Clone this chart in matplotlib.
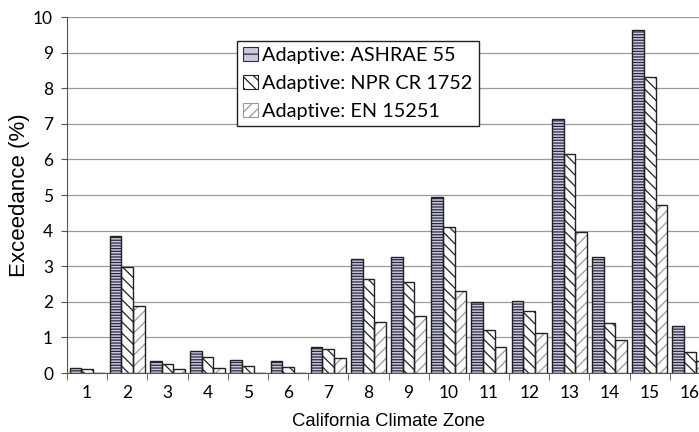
import matplotlib
matplotlib.use("Agg")
import matplotlib.pyplot as plt
import numpy as np

zones = [str(i) for i in range(1, 17)]
ashrae = [0.14, 3.84, 0.34, 0.63, 0.37, 0.34, 0.72, 3.20, 3.27, 4.95, 1.99, 2.02, 7.13, 3.25, 9.63, 1.32]
npr = [0.10, 2.97, 0.24, 0.46, 0.20, 0.16, 0.68, 2.65, 2.56, 4.09, 1.21, 1.75, 6.14, 1.40, 8.32, 0.60]
en = [0.0, 1.87, 0.10, 0.15, 0.0, 0.0, 0.43, 1.42, 1.60, 2.30, 0.74, 1.13, 3.95, 0.93, 4.73, 0.35]
series_names = ["Adaptive: ASHRAE 55", "Adaptive: NPR CR 1752", "Adaptive: EN 15251"]
yticks = list(range(0, 11))

plt.rcParams['hatch.linewidth'] = 0.9

fig = plt.figure(figsize=(6.99, 4.32), dpi=100)
ax = fig.add_axes([67/699, 59/432, 643/699, 356/432])

x = np.arange(1, 17)
w = 0.29
styles = [
    dict(face="#c9c9da", hatch="------", hcol="#2a2a44"),
    dict(face="white", hatch="\\\\\\", hcol="#222222"),
    dict(face="white", hatch="///", hcol="#9a9a9a"),
]
data = [ashrae, npr, en]
handles = []
for i, (vals, st) in enumerate(zip(data, styles)):
    pos = x + (i - 1) * w
    ax.bar(pos, vals, width=w, color=st["face"], hatch=st["hatch"],
           edgecolor=st["hcol"], linewidth=0, zorder=3)
    ax.bar(pos, vals, width=w, fill=False, edgecolor="#222222",
           linewidth=1.0, zorder=4)
    h = plt.Rectangle((0, 0), 1, 1, facecolor=st["face"], hatch=st["hatch"].replace("---", "-"),
                      edgecolor=st["hcol"], linewidth=0.8)
    handles.append(h)

ax.set_xlim(0.5, 16.5)
ax.set_ylim(0, 10)
ax.set_yticks(yticks)
ax.set_yticklabels([str(t) for t in yticks], fontsize=12.5, family="Lato")
ax.set_xticks(x)
ax.set_xticklabels(zones, fontsize=12.5, family="Lato")
ax.set_xticks(np.arange(0.5, 17.5, 1), minor=True)
ax.tick_params(axis='x', which='major', length=0, pad=9)
ax.tick_params(axis='x', which='minor', length=5, color="#555555", direction='out')
ax.tick_params(axis='y', length=4, color="#555555", direction='out', pad=6)
ax.yaxis.grid(True, color="#9a9a9a", linewidth=0.9, zorder=0)
ax.set_axisbelow(True)
for s in ["top", "right"]:
    ax.spines[s].set_visible(False)
ax.spines["left"].set_color("#555555")
ax.spines["bottom"].set_color("#555555")

ax.set_ylabel("Exceedance (%)", fontsize=16, family="Liberation Sans", labelpad=2)
ax.set_xlabel("California Climate Zone", fontsize=13.3, family="Liberation Sans", labelpad=8)

leg = fig.legend(handles, series_names, loc="upper left", bbox_to_anchor=(237/699, 1 - 41/432),
                 prop=dict(family="Lato", size=14.3), frameon=True, fancybox=False,
                 edgecolor="#222222", framealpha=1, handlelength=0.77, handleheight=0.67,
                 handletextpad=0.2, labelspacing=0.55, borderpad=0.3, borderaxespad=0)
leg.get_frame().set_linewidth(1.0)

fig.savefig("out.png", dpi=100)
